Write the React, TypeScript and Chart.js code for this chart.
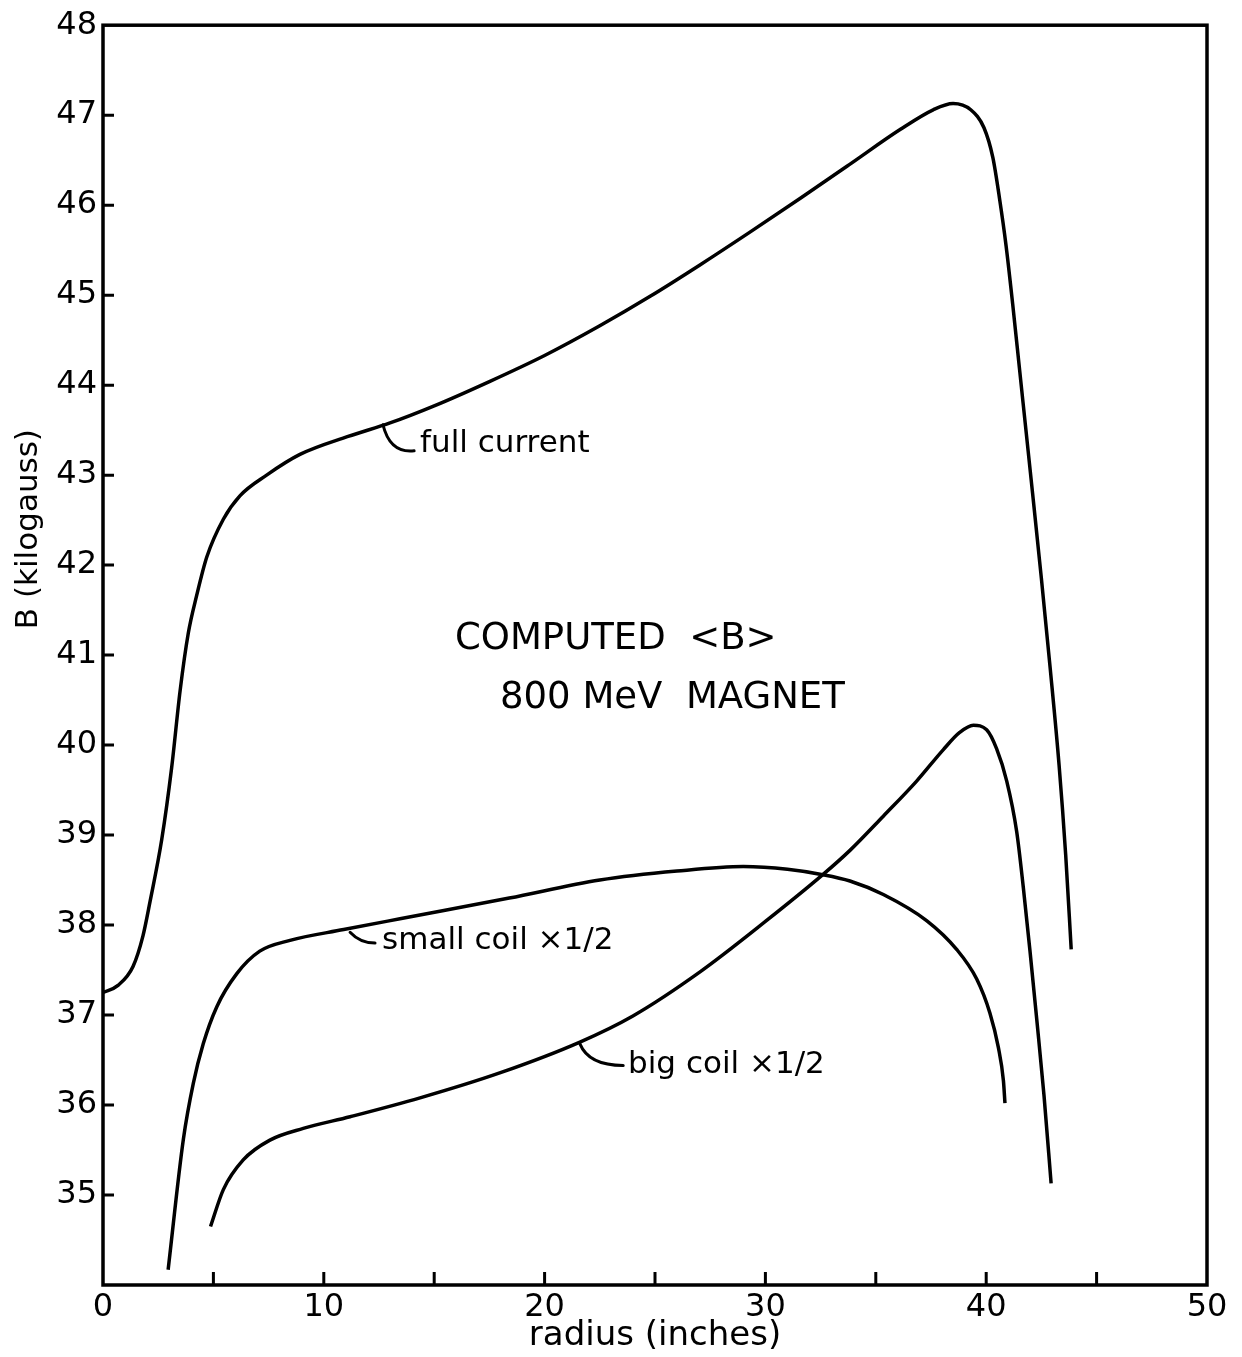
import { useEffect, useRef } from "react";
import { Chart, registerables } from "chart.js";

Chart.register(...registerables);

// ---- data (radius in inches, B in kilogauss) ----
const fullCurrentR = [0, 0.68, 1.36, 1.81, 2.13, 2.66, 3.11, 3.49, 3.86, 4.24, 4.7, 5.45, 6.2, 7.41, 8.92, 11.1, 13, 15, 17.5, 20, 22.5, 24.8, 27, 29.3, 31.6, 33.8, 36.1, 37.6, 38.5, 39.3, 39.9, 40.3, 40.6, 40.9, 41.2, 41.5, 41.8, 42.1, 42.5, 42.9, 43.3, 43.6, 43.85];
const fullCurrentB = [37.25, 37.33, 37.54, 37.88, 38.26, 38.95, 39.75, 40.6, 41.24, 41.66, 42.09, 42.51, 42.77, 43.0, 43.23, 43.43, 43.58, 43.77, 44.04, 44.33, 44.66, 44.99, 45.33, 45.7, 46.08, 46.45, 46.84, 47.06, 47.13, 47.06, 46.86, 46.53, 46.08, 45.55, 44.9, 44.2, 43.5, 42.8, 41.85, 40.85, 39.78, 38.78, 37.73];

const smallCoilR = [2.95, 3.64, 4.09, 4.54, 5.15, 6.06, 7.1, 8.47, 10.9, 13.45, 18.4, 22.5, 26, 29, 31, 32.6, 33.83, 35.34, 37.3, 38.66, 39.57, 40.17, 40.55, 40.78, 40.85];
const smallCoilB = [34.17, 35.62, 36.24, 36.68, 37.09, 37.46, 37.71, 37.83, 37.95, 38.07, 38.3, 38.5, 38.6, 38.65, 38.62, 38.56, 38.49, 38.34, 38.05, 37.73, 37.4, 37.02, 36.64, 36.27, 36.02];

const bigCoilR = [4.87, 5.45, 6.35, 7.56, 9.07, 11.19, 14.36, 18, 21.6, 24, 27.04, 30, 32.6, 33.83, 35.34, 36.85, 38.06, 38.8, 39.42, 40.02, 40.47, 40.93, 41.38, 41.68, 41.98, 42.29, 42.62, 42.94];
const bigCoilB = [34.65, 35.06, 35.39, 35.61, 35.74, 35.87, 36.08, 36.36, 36.7, 36.99, 37.48, 38.04, 38.56, 38.83, 39.21, 39.6, 39.95, 40.14, 40.22, 40.17, 39.96, 39.6, 39.04, 38.42, 37.72, 36.95, 36.1, 35.13];

const xLabelValues = [0, 10, 20, 30, 40, 50];
const xInnerTicks = [5, 10, 15, 20, 25, 30, 35, 40, 45];
const yInnerTicks = [35, 36, 37, 38, 39, 40, 41, 42, 43, 44, 45, 46, 47];

const FONT = "'DejaVu Sans', sans-serif";

type Pt = [number, number];
interface Note {
  text: string;
  at: Pt;
  size: number;
  leader?: [Pt, Pt, Pt];
}

const notes: Note[] = [
  { text: "full current", at: [14.36, 43.35], size: 31, leader: [[12.68, 43.56], [13.0, 43.24], [14.09, 43.27]] },
  { text: "small coil \u00d71/2", at: [12.64, 37.82], size: 31, leader: [[11.19, 37.92], [11.64, 37.8], [12.32, 37.8]] },
  { text: "big coil \u00d71/2", at: [23.78, 36.44], size: 31, leader: [[21.6, 36.68], [22.0, 36.44], [23.56, 36.44]] },
  { text: "COMPUTED  <B>", at: [15.94, 41.17], size: 37 },
  { text: "800 MeV  MAGNET", at: [17.98, 40.52], size: 37 },
];

const zip = (r: number[], b: number[]) => r.map((x, i) => ({ x, y: b[i] }));

const framePlugin = {
  id: "frameAndNotes",
  afterDraw(chart: any) {
    const { ctx, chartArea, scales } = chart;
    const { left, right, top, bottom } = chartArea;
    const xs = scales.x;
    const ys = scales.y;
    ctx.save();
    ctx.strokeStyle = "#000";
    ctx.fillStyle = "#000";
    ctx.lineCap = "butt";
    ctx.lineWidth = 3.5;
    ctx.strokeRect(left, top, right - left, bottom - top);

    ctx.lineWidth = 3;
    ctx.beginPath();
    for (const v of yInnerTicks) {
      const py = ys.getPixelForValue(v);
      ctx.moveTo(left, py);
      ctx.lineTo(left + 11, py);
    }
    for (const v of xInnerTicks) {
      const px = xs.getPixelForValue(v);
      ctx.moveTo(px, bottom);
      ctx.lineTo(px, bottom - 13);
    }
    ctx.stroke();

    // annotations
    ctx.lineWidth = 3;
    ctx.lineCap = "round";
    ctx.textAlign = "left";
    ctx.textBaseline = "middle";
    for (const n of notes) {
      if (n.leader) {
        const [a, c, e] = n.leader;
        ctx.beginPath();
        ctx.moveTo(xs.getPixelForValue(a[0]), ys.getPixelForValue(a[1]));
        ctx.quadraticCurveTo(
          xs.getPixelForValue(c[0]), ys.getPixelForValue(c[1]),
          xs.getPixelForValue(e[0]), ys.getPixelForValue(e[1])
        );
        ctx.stroke();
      }
      ctx.font = `${n.size}px ${FONT}`;
      ctx.fillText(n.text, xs.getPixelForValue(n.at[0]), ys.getPixelForValue(n.at[1]));
    }

    // y-axis title
    ctx.save();
    ctx.translate(29, ys.getPixelForValue(42.4));
    ctx.rotate(-Math.PI / 2);
    ctx.textAlign = "center";
    ctx.textBaseline = "middle";
    ctx.font = `31px ${FONT}`;
    ctx.fillText("B (kilogauss)", 0, 0);
    ctx.restore();

    ctx.restore();
  },
};

export default function App() {
  const ref = useRef<HTMLCanvasElement | null>(null);

  useEffect(() => {
    document.body.style.margin = "0";
    document.body.style.background = "#fff";
    const canvas = ref.current;
    if (!canvas) return;
    const line = (data: { x: number; y: number }[]) => ({
      data,
      borderColor: "#000",
      borderWidth: 3.5,
      pointRadius: 0,
      fill: false,
      cubicInterpolationMode: "monotone" as const,
    });
    const chart = new Chart(canvas, {
      type: "line",
      data: {
        datasets: [
          { label: "full current", ...line(zip(fullCurrentR, fullCurrentB)) },
          { label: "small coil x1/2", ...line(zip(smallCoilR, smallCoilB)) },
          { label: "big coil x1/2", ...line(zip(bigCoilR, bigCoilB)) },
        ],
      },
      options: {
        animation: false,
        responsive: false,
        maintainAspectRatio: false,
        devicePixelRatio: 1,
        layout: { padding: { top: 20, right: 35, left: 0, bottom: 0 } },
        plugins: { legend: { display: false }, tooltip: { enabled: false } },
        scales: {
          x: {
            type: "linear",
            min: 0,
            max: 50,
            afterFit: (s: any) => { s.height = 72; },
            afterBuildTicks: (s: any) => { s.ticks = xLabelValues.map((v) => ({ value: v })); },
            grid: { display: false, drawTicks: false },
            border: { display: false },
            ticks: {
              color: "#000",
              font: { family: FONT, size: 32 },
              padding: 3,
              maxRotation: 0,
              autoSkip: false,
            },
            title: {
              display: true,
              text: "radius (inches)",
              color: "#000",
              font: { family: FONT, size: 34, lineHeight: 1.2 },
              padding: { top: 0, bottom: 0 },
            },
          },
          y: {
            type: "linear",
            min: 34,
            max: 48,
            afterFit: (s: any) => { s.width = 103; },
            grid: { display: false, drawTicks: false },
            border: { display: false },
            ticks: {
              stepSize: 1,
              color: "#000",
              font: { family: FONT, size: 32 },
              padding: 6,
              autoSkip: false,
              callback: (v: any) => (Number(v) === 34 ? "" : String(v)),
            },
          },
        },
      },
      plugins: [framePlugin],
    });
    return () => chart.destroy();
  }, []);

  return (
    <div style={{ width: 1242, height: 1357, background: "#fff" }}>
      <canvas ref={ref} width={1242} height={1357} style={{ display: "block" }} />
    </div>
  );
}
